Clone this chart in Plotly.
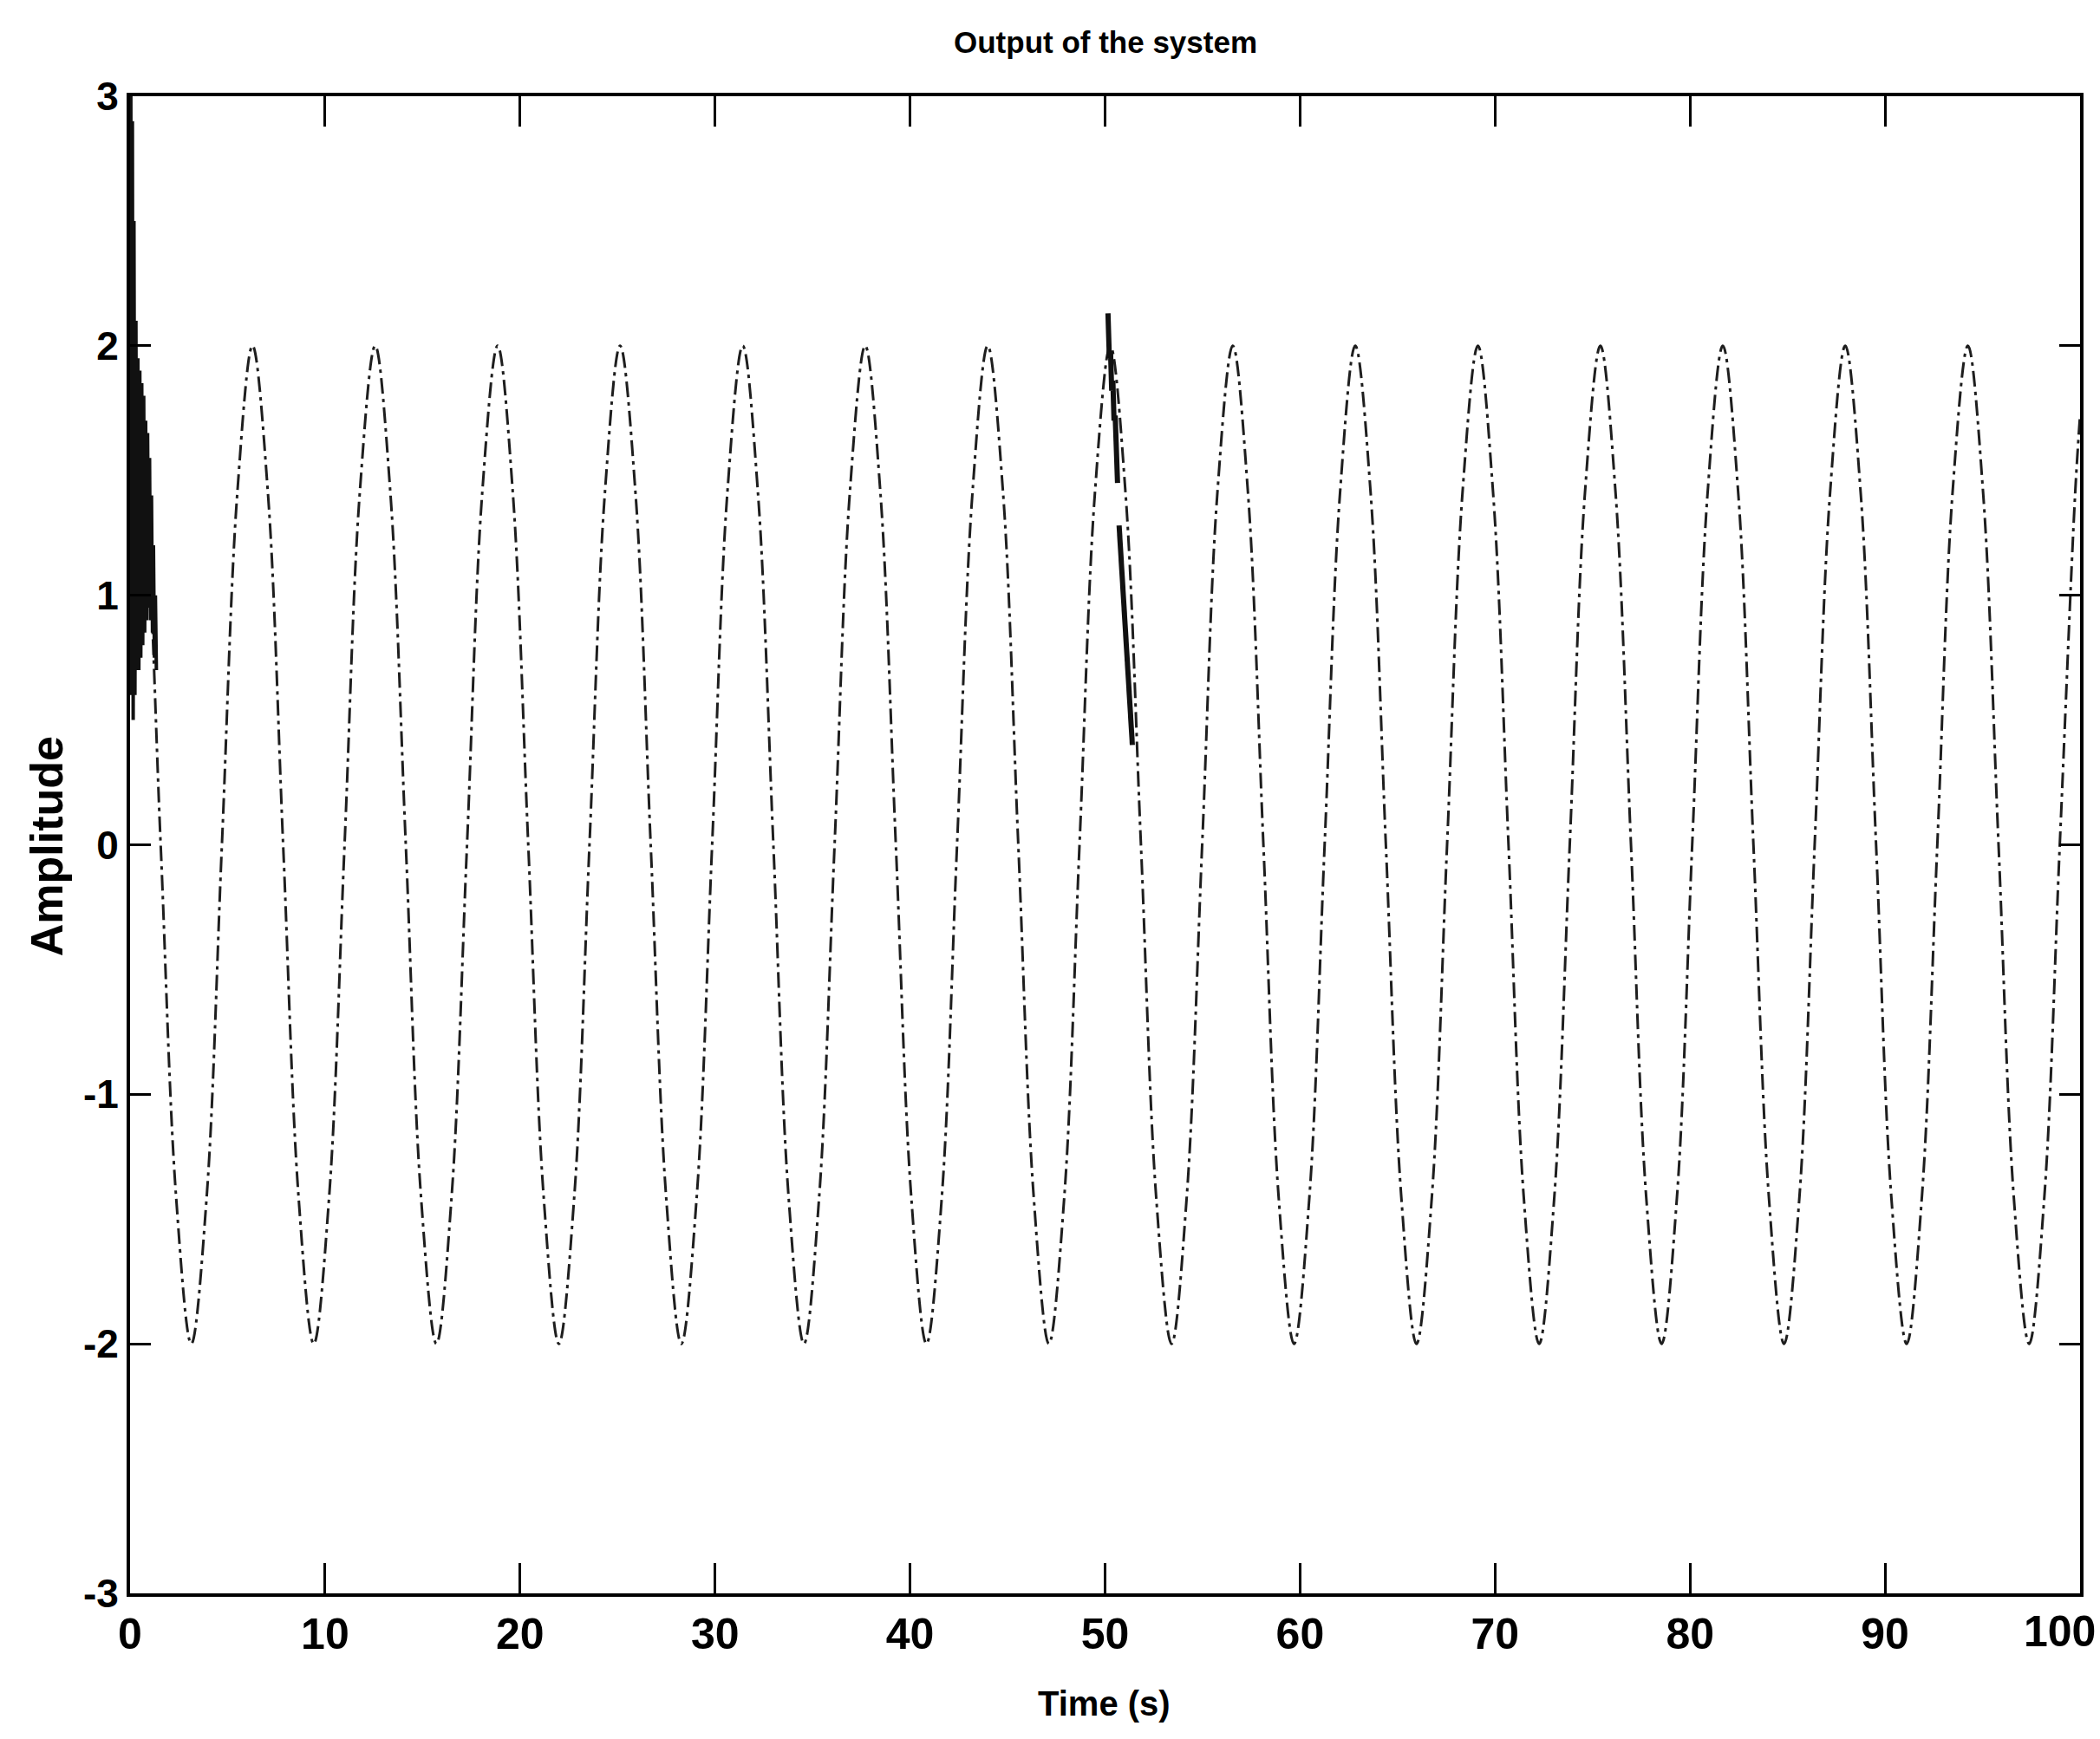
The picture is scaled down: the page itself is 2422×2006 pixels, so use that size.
import plotly.graph_objects as go

# ---- data ----
time_s = [0.00, 0.79, 1.57, 2.36, 3.14, 3.93, 4.71, 5.50, 6.28, 7.07, 7.85, 8.64,
          9.42, 10.21, 11.00, 11.78, 12.57, 13.35, 14.14, 14.92, 15.71, 16.49, 17.28, 18.06,
          18.85, 19.63, 20.42, 21.21, 21.99, 22.78, 23.56, 24.35, 25.13, 25.92, 26.70, 27.49,
          28.27, 29.06, 29.85, 30.63, 31.42, 32.20, 32.99, 33.77, 34.56, 35.34, 36.13, 36.91,
          37.70, 38.48, 39.27, 40.06, 40.84, 41.63, 42.41, 43.20, 43.98, 44.77, 45.55, 46.34,
          47.12, 47.91, 48.69, 49.48, 50.27, 51.05, 51.84, 52.62, 53.41, 54.19, 54.98, 55.76,
          56.55, 57.33, 58.12, 58.90, 59.69, 60.48, 61.26, 62.05, 62.83, 63.62, 64.40, 65.19,
          65.97, 66.76, 67.54, 68.33, 69.12, 69.90, 70.69, 71.47, 72.26, 73.04, 73.83, 74.61,
          75.40, 76.18, 76.97, 77.75, 78.54, 79.33, 80.11, 80.90, 81.68, 82.47, 83.25, 84.04,
          84.82, 85.61, 86.39, 87.18, 87.96, 88.75, 89.54, 90.32, 91.11, 91.89, 92.68, 93.46,
          94.25, 95.03, 95.82, 96.60, 97.39, 98.17, 98.96, 99.75, 100.0]
amplitude = [2.0, 1.41, 0.0, -1.41, -2.0, -1.41, 0.0, 1.41,
             2.0, 1.41, 0.0, -1.41, -2.0, -1.41, 0.0, 1.41,
             2.0, 1.41, 0.0, -1.41, -2.0, -1.41, 0.0, 1.41,
             2.0, 1.41, 0.0, -1.41, -2.0, -1.41, 0.0, 1.41,
             2.0, 1.41, 0.0, -1.41, -2.0, -1.41, 0.0, 1.41,
             2.0, 1.41, 0.0, -1.41, -2.0, -1.41, 0.0, 1.41,
             2.0, 1.41, 0.0, -1.41, -2.0, -1.41, 0.0, 1.41,
             2.0, 1.41, 0.0, -1.41, -2.0, -1.41, 0.0, 1.41,
             2.0, 1.41, 0.0, -1.41, -2.0, -1.41, 0.0, 1.41,
             2.0, 1.41, 0.0, -1.41, -2.0, -1.41, 0.0, 1.41,
             2.0, 1.41, 0.0, -1.41, -2.0, -1.41, 0.0, 1.41,
             2.0, 1.41, 0.0, -1.41, -2.0, -1.41, 0.0, 1.41,
             2.0, 1.41, 0.0, -1.41, -2.0, -1.41, 0.0, 1.41,
             2.0, 1.41, 0.0, -1.41, -2.0, -1.41, 0.0, 1.41,
             2.0, 1.41, 0.0, -1.41, -2.0, -1.41, 0.0, 1.41,
             2.0, 1.41, 0.0, -1.41, -2.0, -1.41, 0.0, 1.41, 1.72]

# start-up transient (dense black band near t = 0)
start_t = [0.00, 0.04, 0.08, 0.12, 0.16, 0.20, 0.25, 0.30, 0.35, 0.40, 0.45, 0.50,
           0.55, 0.60, 0.65, 0.70, 0.75, 0.80, 0.85, 0.90, 0.95, 1.00, 1.05, 1.10,
           1.15, 1.20, 1.25, 1.30, 1.35]
start_y = [2.0, 3.0, 0.6, 2.9, 0.5, 2.5, 0.6, 2.1, 0.7, 1.95, 0.7, 1.9,
           0.75, 1.85, 0.8, 1.8, 0.85, 1.7, 0.9, 1.65, 0.95, 1.55, 0.9, 1.4,
           0.85, 1.2, 0.75, 1.0, 0.7]

# disturbance near t = 50
dist_t = [50.15, 50.22, 50.28, 50.34, 50.40, 50.46, 50.52, 50.58, 50.64, None,
          50.72, 50.95, 51.20, 51.40]
dist_y = [2.13, 1.95, 1.98, 1.82, 1.86, 1.70, 1.72, 1.55, 1.45, None,
          1.28, 1.00, 0.65, 0.40]

x_ticks = [0, 10, 20, 30, 40, 50, 60, 70, 80, 90]
x_last_tick = 100
y_ticks = [-3, -2, -1, 0, 1, 2, 3]

BOLD = "Liberation Sans, Arial, sans-serif"

fig = go.Figure()
fig.add_trace(go.Scatter(x=time_s, y=amplitude, mode="lines",
                         line=dict(color="#1e1e1e", width=3, dash="18px,6px,4px,6px",
                                   shape="spline", smoothing=1.0),
                         showlegend=False, hoverinfo="skip"))
fig.add_trace(go.Scatter(x=start_t, y=start_y, mode="lines",
                         line=dict(color="#111111", width=4),
                         showlegend=False, hoverinfo="skip"))
fig.add_trace(go.Scatter(x=dist_t, y=dist_y, mode="lines", connectgaps=False,
                         line=dict(color="#111111", width=6),
                         showlegend=False, hoverinfo="skip"))

fig.update_layout(
    width=2422, height=2006,
    margin=dict(l=150, r=23, t=111, b=168),
    paper_bgcolor="white", plot_bgcolor="white",
    showlegend=False,
    annotations=[
        dict(text="Output of the system", xref="paper", yref="paper", x=0.5, y=1.036,
             xanchor="center", yanchor="middle", showarrow=False,
             font=dict(family=BOLD, size=35, color="black", weight="bold")),
        dict(text="Time (s)", xref="paper", yref="paper", x=0.4995, y=-0.0735,
             xanchor="center", yanchor="middle", showarrow=False,
             font=dict(family=BOLD, size=40, color="black", weight="bold")),
        dict(text="Amplitude", xref="paper", yref="paper", x=-0.0427, y=0.499,
             xanchor="center", yanchor="middle", showarrow=False, textangle=-90,
             font=dict(family=BOLD, size=52, color="black", weight="bold")),
        dict(text=str(x_last_tick), xref="paper", yref="paper", x=1, y=0,
             xshift=20, yshift=-14, xanchor="right", yanchor="top", showarrow=False,
             font=dict(family=BOLD, size=50, color="black", weight="bold")),
    ],
)
fig.update_xaxes(range=[0, 100], tickvals=x_ticks, ticktext=[str(v) for v in x_ticks],
                 ticks="inside", ticklen=35, tickwidth=3, tickcolor="black",
                 showline=True, linewidth=4, linecolor="black", mirror="ticks",
                 showgrid=False, zeroline=False,
                 tickfont=dict(family=BOLD, size=50, color="black", weight="bold"))
fig.update_yaxes(range=[-3, 3], tickvals=y_ticks, ticktext=[str(v) for v in y_ticks],
                 ticks="inside", ticklen=24, tickwidth=3, tickcolor="black",
                 showline=True, linewidth=4, linecolor="black", mirror="ticks",
                 showgrid=False, zeroline=False,
                 tickfont=dict(family=BOLD, size=46, color="black", weight="bold"))

fig.write_html("out.html")
